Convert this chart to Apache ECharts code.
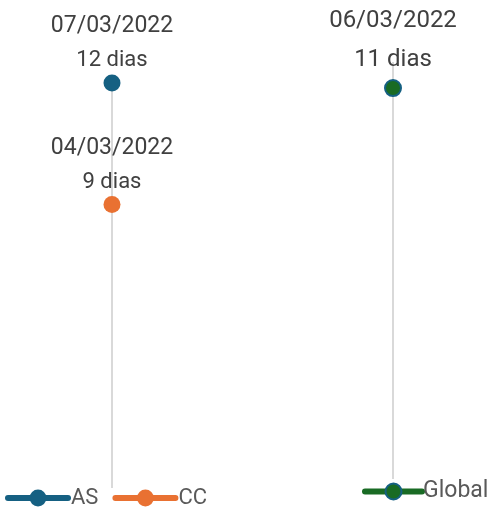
<!DOCTYPE html>
<html>
<head>
<meta charset="utf-8">
<script src="https://cdn.jsdelivr.net/npm/echarts@6/dist/echarts.min.js"></script>
<style>
  html, body { margin: 0; padding: 0; background: #fff; }
  #chart { width: 498px; height: 512px; }
</style>
</head>
<body>
<div id="chart"></div>
<script>
  // dados
  var categorias = ['Prazo'];
  var nomes = ['AS', 'CC', 'Global'];
  var dias = [12, 9, 11];
  var datas = ['07/03/2022', '04/03/2022', '06/03/2022'];
  var cores = ['#156082', '#E97132', '#196B24'];

  var chart = echarts.init(document.getElementById('chart'));

  function rotulo(i, big) {
    return {
      show: true,
      position: 'top',
      distance: big ? 6 : 2,
      formatter: function (p) {
        return '{d|' + datas[i] + '}\n{n|' + p.value + ' dias}';
      },
      rich: {
        d: { fontSize: big ? 24 : 23, color: '#404040', fontFamily: 'Roboto', lineHeight: big ? 52 : 44 },
        n: { fontSize: big ? 24 : 22, color: '#404040', fontFamily: 'Roboto', lineHeight: big ? 26 : 24 }
      }
    };
  }

  function serie(i, grid, big) {
    var s = {
      name: nomes[i],
      type: 'line',
      xAxisIndex: grid,
      yAxisIndex: grid,
      z: 3,
      symbol: 'circle',
      symbolSize: big ? 16 : 17,
      lineStyle: { color: cores[i], width: 6, cap: 'round' },
      itemStyle: { color: cores[i] },
      label: rotulo(i, big),
      data: [dias[i]]
    };
    return s;
  }

  var linhaCinza = {
    silent: true,
    z: 1,
    symbol: 'none',
    label: { show: false },
    lineStyle: { color: '#D9D9D9', width: 2, type: 'solid' },
    data: [{ xAxis: 0 }]
  };

  var sAS = serie(0, 0, false);
  sAS.markLine = linhaCinza;
  var sCC = serie(1, 0, false);
  var sGlobal = serie(2, 1, true);
  sGlobal.itemStyle = { color: cores[2], borderColor: cores[0], borderWidth: 2 };
  sGlobal.markLine = linhaCinza;

  var option = {
    animation: false,
    grid: [
      { left: 62, width: 100, top: 83, bottom: 24 },
      { left: 343, width: 100, top: 62, bottom: 33 }
    ],
    xAxis: [
      { type: 'category', gridIndex: 0, data: categorias, show: false },
      { type: 'category', gridIndex: 1, data: categorias, show: false }
    ],
    yAxis: [
      { type: 'value', gridIndex: 0, min: 2, max: 12, show: false },
      { type: 'value', gridIndex: 1, min: -4, max: 12, show: false }
    ],
    legend: [
      {
        data: ['AS', 'CC'],
        left: 0,
        bottom: -2,
        itemWidth: 60,
        itemHeight: 21,
        itemGap: 14,
        lineStyle: { width: 6, cap: 'round' },
        textStyle: { fontSize: 22, color: '#595959', fontFamily: 'Roboto', padding: [0, 0, 0, -2] }
      },
      {
        data: ['Global'],
        left: 357,
        bottom: 4,
        itemWidth: 57,
        itemHeight: 20,
        lineStyle: { width: 6, cap: 'round' },
        textStyle: { fontSize: 23, color: '#595959', fontFamily: 'Roboto', padding: [0, 0, 0, -4] }
      }
    ],
    series: [sAS, sCC, sGlobal]
  };

  chart.setOption(option);
</script>
</body>
</html>
